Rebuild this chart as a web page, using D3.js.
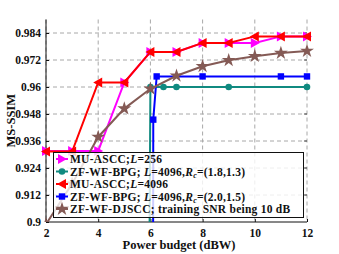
<!DOCTYPE html>
<html><head><meta charset="utf-8">
<script src="https://cdn.jsdelivr.net/npm/d3@7/dist/d3.min.js"></script>
<style>body{margin:0;background:#fff}svg{display:block}text{font-family:"Liberation Serif","Times New Roman",serif;font-weight:bold}</style>
</head><body>
<svg id="c" width="339" height="254"></svg>
<script>
const xTicks=[2,4,6,8,10,12];
const yTicks=[0.9,0.912,0.924,0.936,0.948,0.96,0.972,0.984];
const xInt=[2,3,4,5,6,7,8,9,10,11,12];
const muL256=[0.9316,0.9316,0.9316,0.962,0.9756,0.9756,0.9796,0.9796,0.9796,0.9825,0.9825];
const muL4096=[0.9313,0.9313,0.962,0.962,0.9756,0.9756,0.9796,0.9796,0.9825,0.9825,0.9825];
const djscc=[0.899,0.917,0.9378,0.9504,0.9592,0.965,0.9692,0.9719,0.9737,0.9751,0.976];
const bpg1X=[5.95,6,6.5,7,9,12];
const bpg1=[0.86,0.96,0.96,0.96,0.96,0.96];
const bpg2X=[6.1,6.11,6.24,8,11,12];
const bpg2=[0.86,0.9455,0.9647,0.9647,0.9647,0.9647];
const labels=["MU-ASCC;L=256","ZF-WF-BPG; L=4096,Rc=(1.8,1.3)","MU-ASCC;L=4096","ZF-WF-BPG; L=4096,Rc=(2.0,1.5)","ZF-WF-DJSCC; training SNR being 10 dB"];

const svg=d3.select("#c");
const x=d3.scaleLinear().domain([2,12]).range([46,307]);
const y=d3.scaleLinear().domain([0.9,0.99]).range([222,19.5]);

svg.append("defs").append("clipPath").attr("id","cp").append("rect").attr("x",0).attr("y",0).attr("width",339).attr("height",222);

const g=svg.append("g");
g.selectAll(".gx").data(xTicks).join("line").attr("x1",d=>x(d)).attr("x2",d=>x(d)).attr("y1",y(0.99)).attr("y2",y(0.9))
 .attr("stroke","#a8a8a8").attr("stroke-dasharray","4,3").attr("stroke-width",1);
g.selectAll(".gy").data(yTicks.slice(1)).join("line").attr("x1",x(2)).attr("x2",x(12)).attr("y1",d=>y(d)).attr("y2",d=>y(d))
 .attr("stroke","#a8a8a8").attr("stroke-dasharray","4,3").attr("stroke-width",1);

const ax=svg.append("g").attr("transform",`translate(0,${y(0.9)})`).call(d3.axisBottom(x).tickValues(xTicks).tickSize(-3).tickPadding(7).tickFormat(d3.format("d")));
const ay=svg.append("g").attr("transform",`translate(${x(2)},0)`).call(d3.axisLeft(y).tickValues(yTicks).tickSize(-3).tickPadding(5).tickFormat(d=>String(+d.toFixed(3))));
ax.select(".domain").attr("d",`M${x(2)},0H${x(12)}`);
ay.select(".domain").attr("d",`M0,${y(0.99)}V${y(0.9)}`);
[ax,ay].forEach(a=>{a.selectAll("text").attr("font-size","11.5px").attr("fill","#111");a.selectAll("line,path").attr("stroke","#111");});
svg.append("g").selectAll("line").data(yTicks.slice(1)).join("line").attr("x1",x(12)-3).attr("x2",x(12)).attr("y1",d=>y(d)).attr("y2",d=>y(d)).attr("stroke","#444");

svg.append("text").attr("x",179).attr("y",249).attr("text-anchor","middle").attr("font-size","12.5px").attr("fill","#111").text("Power budget (dBW)");
svg.append("text").attr("transform",`translate(15,${y(0.945)}) rotate(-90)`).attr("text-anchor","middle").attr("font-size","12.5px").attr("fill","#111").text("MS-SSIM");

const series=[
 {xs:xInt,ys:muL256,c:"#ff00ff",m:"tr"},
 {xs:bpg1X,ys:bpg1,c:"#108a80",m:"circle"},
 {xs:xInt,ys:muL4096,c:"#ff0000",m:"tl"},
 {xs:bpg2X,ys:bpg2,c:"#0000ff",m:"square"},
 {xs:xInt,ys:djscc,c:"#845a55",m:"star"}
];
function marker(sel,m,c){
 if(m==="circle") sel.append("circle").attr("r",3.3).attr("fill",c);
 else if(m==="square") sel.append("rect").attr("x",-3.2).attr("y",-3.2).attr("width",6.4).attr("height",6.4).attr("fill",c);
 else if(m==="tr") sel.append("path").attr("d","M5,0L-4,-5L-4,5Z").attr("fill",c);
 else if(m==="tl") sel.append("path").attr("d","M-5,0L4,-5L4,5Z").attr("fill",c);
 else sel.append("path").attr("d",d3.symbol(d3.symbolStar,60)()).attr("fill",c);
}
const plot=svg.append("g").attr("clip-path","url(#cp)");
const line=d3.line();
series.forEach(s=>{
 const pts=s.xs.map((v,i)=>[x(v),y(s.ys[i])]);
 plot.append("path").attr("d",line(pts)).attr("fill","none").attr("stroke",s.c).attr("stroke-width",2);
 pts.forEach(p=>{const gm=plot.append("g").attr("transform",`translate(${p[0]},${p[1]})`);marker(gm,s.m,s.c);});
});

const lg=svg.append("g");
lg.append("rect").attr("x",53.5).attr("y",152.5).attr("width",250).attr("height",65).attr("fill","#fff").attr("fill-opacity",0.8).attr("stroke","#111").attr("stroke-width",1);
function richText(t,lab){
 const re=/(L|Rc)(?==)/g; let last=0,mm,pendDy=0;
 const add=(txt)=>{const ts=t.append("tspan").text(txt); if(pendDy){ts.attr("dy",pendDy);pendDy=0;} return ts;};
 while((mm=re.exec(lab))){
  if(mm.index>last) add(lab.slice(last,mm.index));
  if(mm[1]==="L") add("L").attr("font-style","italic");
  else {add("R").attr("font-style","italic");t.append("tspan").attr("font-size","8px").attr("font-style","italic").attr("dy",2).text("c");pendDy=-2;}
  last=mm.index+mm[1].length;
 }
 add(lab.slice(last));
}
series.forEach((s,i)=>{
 const yy=159+i*12.5;
 lg.append("line").attr("x1",56).attr("x2",68).attr("y1",yy).attr("y2",yy).attr("stroke",s.c).attr("stroke-width",2);
 const gm=lg.append("g").attr("transform",`translate(62,${yy})`);marker(gm,s.m,s.c);
 const t=lg.append("text").attr("x",70).attr("y",yy+4).attr("font-size","11.5px").attr("letter-spacing","0.25px").attr("fill","#111");
 richText(t,labels[i]);
});
</script></body></html>
